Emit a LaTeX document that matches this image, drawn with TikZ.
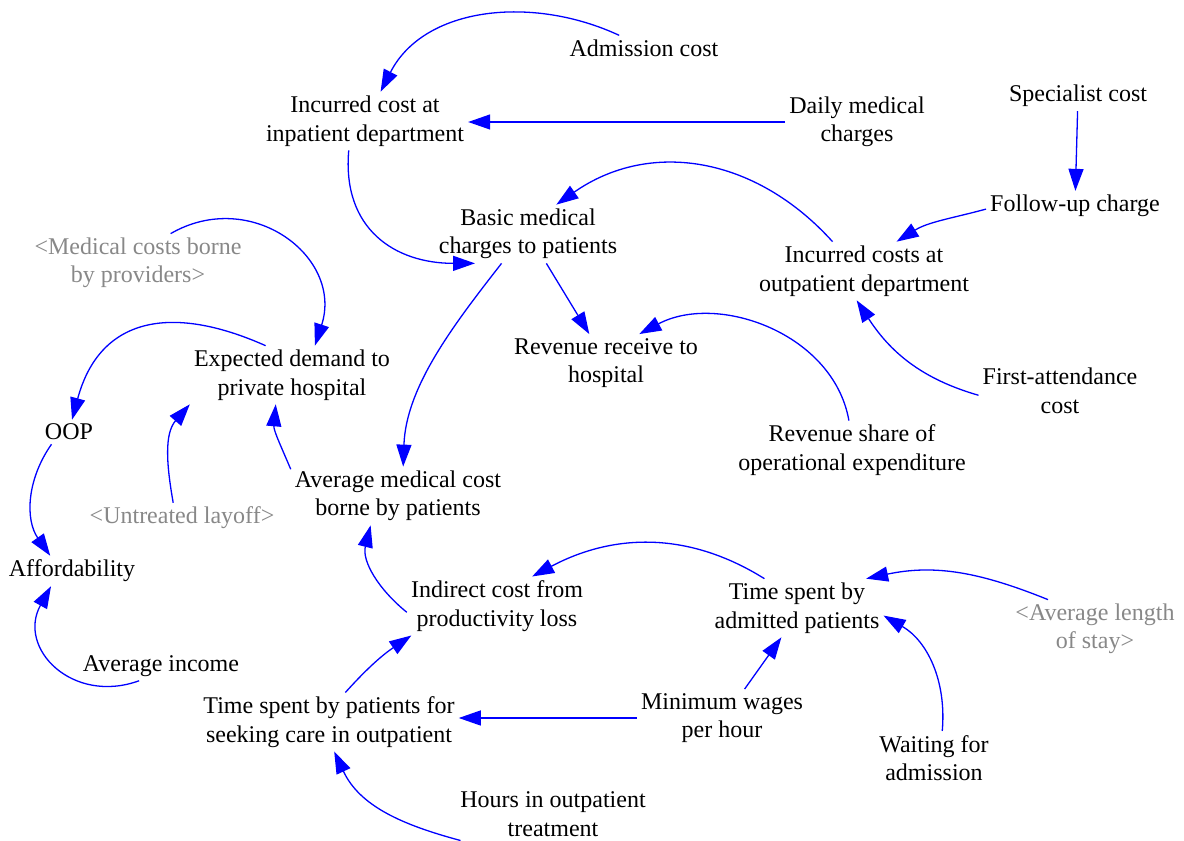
\documentclass[tikz,border=0pt]{standalone}
\usepackage{fontspec}
\setmainfont{Liberation Serif}
\usetikzlibrary{arrows.meta}
\definecolor{linkblue}{RGB}{0,0,255}
\definecolor{shadowgray}{RGB}{136,136,136}
\begin{document}
\begin{tikzpicture}[x=1pt,y=1pt,
  var/.style={align=center, inner sep=4pt, font=\fontsize{24}{28.5}\selectfont, text=black},
  shadowvar/.style={var, text=shadowgray},
  link/.style={draw=linkblue, line width=1.3pt, -{Triangle[length=22pt,width=15pt]}}]
\useasboundingbox (0,0) rectangle (1184,841);

% variables
\node[var] (adm) at (644,793) {Admission cost};
\node[var] (inp) at (365,720) {Incurred cost at\\inpatient department};
\node[var] (daily) at (857,719) {Daily medical\\charges};
\node[var] (spec) at (1078,745) {Specialist cost};
\node[var] (follow) at (1075,635) {Follow-up charge};
\node[var] (basic) at (528,607) {Basic medical\\charges to patients};
\node[var] (outp) at (864,570) {Incurred costs at\\outpatient department};
\node[shadowvar] (mcbp) at (138,578) {\textless Medical costs borne\\by providers\textgreater};
\node[var] (exp) at (292,466) {Expected demand to\\private hospital};
\node[var] (rev) at (606,478) {Revenue receive to\\hospital};
\node[var] (first) at (1060,450) {First-attendance\\cost};
\node[var] (oop) at (69,409) {OOP};
\node[var] (rshare) at (852,391) {Revenue share of\\operational expenditure};
\node[var] (avgmed) at (398,345) {Average medical cost\\borne by patients};
\node[shadowvar] (untr) at (182,323) {\textless Untreated layoff\textgreater};
\node[var] (afford) at (72,270) {Affordability};
\node[var] (indir) at (497,235) {Indirect cost from\\productivity loss};
\node[var] (tadm) at (797,233) {Time spent by\\admitted patients};
\node[shadowvar] (als) at (1095,212) {\textless Average length\\of stay\textgreater};
\node[var] (avinc) at (161,175) {Average income};
\node[var] (minw) at (722,123) {Minimum wages\\per hour};
\node[var] (tout) at (329,119) {Time spent by patients for\\seeking care in outpatient};
\node[var] (wait) at (934,83) {Waiting for\\admission};
\node[var] (hours) at (553,27) {Hours in outpatient\\treatment};

% causal links
\draw[link] (adm.153) to[out=155,in=63] (inp.62);
\draw[link] (daily.west) -- (daily.west -| inp.east);
\draw[link] (inp.241) to[out=265,in=180,looseness=1.2] (basic.209);
\draw[link] (basic.228) to[out=232,in=88,looseness=0.9] (avgmed.80);
\draw[link] (basic.302) -- (rev.120);
\draw[link] (mcbp.42) to[out=30,in=72,looseness=1.3] (exp.52);
\draw[link] (spec) -- (follow);
\draw[link] (follow.182) to[out=195,in=32] (outp.42);
\draw[link] (outp.137) to[out=132,in=35,looseness=1.05] (basic.46);
\draw[link] (first.183) to[out=164,in=-57] (outp.256);
\draw[link] (rshare.96) to[out=100,in=28] (rev.41);
\draw[link] (exp.132) to[out=156,in=75,looseness=1.3] (oop.76);
\draw[link] (untr.120) to[out=100,in=-131] (exp.196);
\draw[link] (avgmed.166) to[out=113,in=-95] (exp.241);
\draw[link] (oop.215) to[out=235,in=125] (afford.145);
\draw[link] (indir.184) to[out=141,in=-104] (avgmed.227);
\draw[link] (avinc.214) to[out=200,in=-119,looseness=1.4] (afford.216);
\draw[link] (tout.61) to[out=48,in=-146] (indir.199);
\draw[link] (minw.west) -- (minw.west -| tout.east);
\draw[link] (hours.196) to[out=165,in=-65] (tout.280);
\draw[link] (tadm.138) to[out=148,in=28] (indir.40);
\draw[link] (als.148) to[out=158,in=12] (tadm.23);
\draw[link] (minw.52) -- (tadm.242);
\draw[link] (wait.73) to[out=85,in=-30] (tadm.355);
\end{tikzpicture}
\end{document}
